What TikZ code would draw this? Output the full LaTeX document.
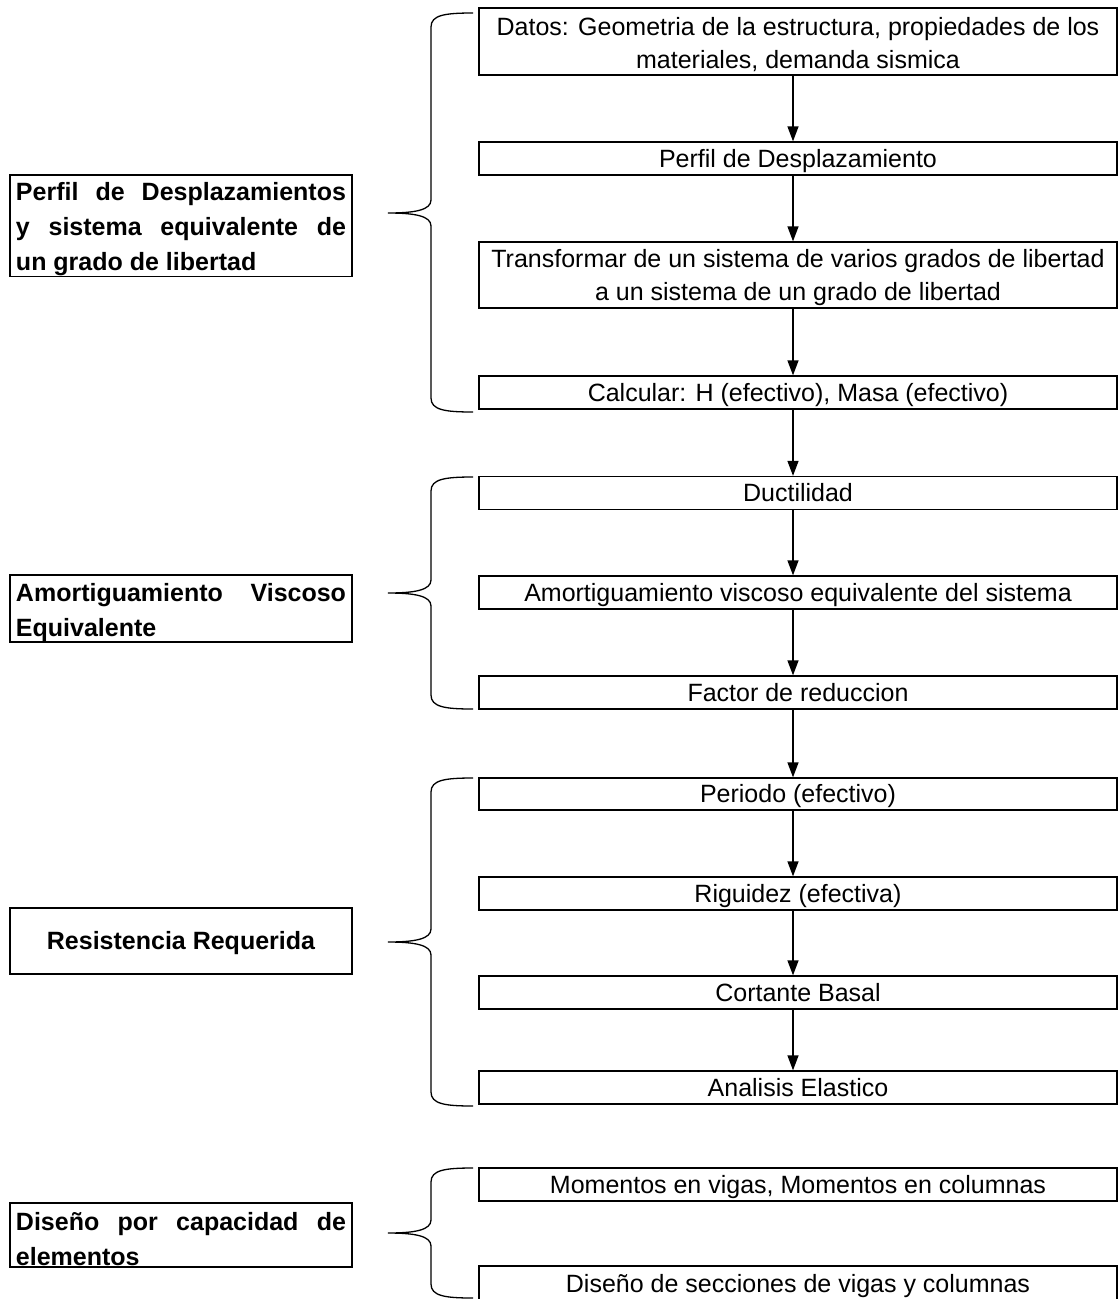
\documentclass[tikz,border=0pt]{standalone}
\usepackage{fontspec}
\setmainfont{Liberation Sans}
\usetikzlibrary{arrows.meta}
\newcommand\mybrace[3]{%
 \draw[bracestyle] (473,#1) .. controls (445,#1) and (431,#1+2) .. (431,#1+14) -- (431,#2-13)
   .. controls (431,#2-3) and (415,#2) .. (388,#2)
   .. controls (415,#2) and (431,#2+3) .. (431,#2+13) -- (431,#3-14)
   .. controls (431,#3-2) and (445,#3) .. (473,#3);}
\newcommand\topstrut[1]{\rule{0pt}{#1}}
\begin{document}
\begin{tikzpicture}[x=1pt,y=-1pt,
  rboxbase/.style={draw,line width=1.3pt,minimum width=638pt,minimum height=33pt,inner sep=0pt,align=center,font=\fontsize{25}{33}\selectfont},
  rbox/.style={rboxbase,text height=22pt,text depth=5pt},
  lbox/.style={draw,line width=1.3pt,minimum width=342pt,inner xsep=6pt,inner ysep=0pt,align=left,font=\bfseries\fontsize{25}{35}\selectfont},
  arr/.style={line width=1.3pt,-{Triangle[length=15pt,width=11pt]}},
  bracestyle/.style={line width=1.3pt}]
\useasboundingbox (0,0) rectangle (1118,1299);
% right column
\node[rboxbase,minimum height=67pt] (r1) at (798,41.5) {\topstrut{24pt}Datos: Geometria de la estructura, propiedades de los\\materiales, demanda sismica};
\node[rbox] (r2) at (798,158.5) {Perfil de Desplazamiento};
\node[rboxbase,minimum height=66pt] (r3) at (798,275) {\topstrut{24pt}Transformar de un sistema de varios grados de libertad\\a un sistema de un grado de libertad};
\node[rbox] (r4) at (798,392.5) {Calcular: H (efectivo), Masa (efectivo)};
\node[rbox] (r5) at (798,493) {Ductilidad};
\node[rbox] (r6) at (798,592.5) {Amortiguamiento viscoso equivalente del sistema};
\node[rbox] (r7) at (798,692.5) {Factor de reduccion};
\node[rbox,minimum height=32pt] (r8) at (798,794) {Periodo (efectivo)};
\node[rbox] (r9) at (798,893.5) {Riguidez (efectiva)};
\node[rbox] (r10) at (798,992.5) {Cortante Basal};
\node[rbox] (r11) at (798,1087.5) {Analisis Elastico};
\node[rbox] (r12) at (798,1184.5) {Momentos en vigas, Momentos en columnas};
\node[rbox,minimum height=35pt] (r13) at (798,1283.5) {Diseño de secciones de vigas y columnas};
% arrows
\foreach \a/\b in {r1/r2,r2/r3,r3/r4,r4/r5,r5/r6,r6/r7,r7/r8,r8/r9,r9/r10,r10/r11}
  \draw[arr] ([xshift=-5pt]\a.south) -- ([xshift=-5pt]\b.north);
% left boxes
\node[lbox,minimum height=101pt] (l1) at (181,225.5) {\makebox[330pt][s]{\topstrut{26pt}Perfil de Desplazamientos}\\\makebox[330pt][s]{y sistema equivalente de}\\un grado de libertad};
\node[lbox,minimum height=67pt] (l2) at (181,608.5) {\makebox[330pt][s]{\topstrut{26pt}Amortiguamiento Viscoso}\\Equivalente};
\node[lbox,minimum height=66pt,align=center,text height=22pt,text depth=5pt] (l3) at (181,941) {\makebox[330pt][c]{Resistencia Requerida}};
\node[lbox,minimum height=64pt] (l4) at (181,1235) {\makebox[330pt][s]{\topstrut{26pt}Diseño por capacidad de}\\elementos};
% braces
\mybrace{13}{213}{412}
\mybrace{477}{593}{709}
\mybrace{778}{942}{1106}
\mybrace{1168}{1233}{1298}
\end{tikzpicture}
\end{document}
